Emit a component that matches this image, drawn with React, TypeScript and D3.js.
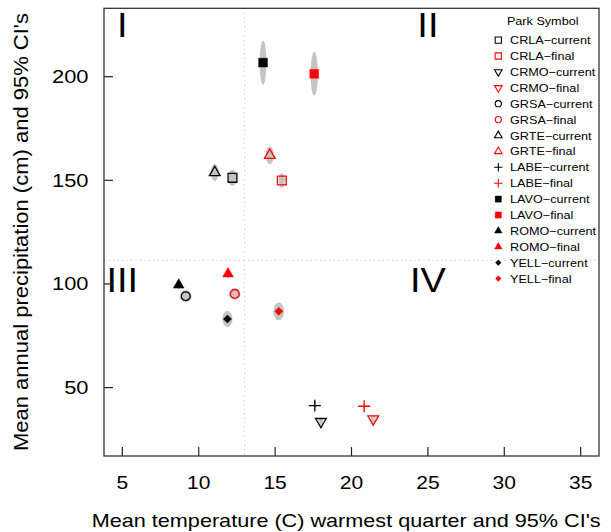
import React from 'react';
import * as d3 from 'd3';

// legend order: park x scenario
const seriesLabels = [
  "CRLA-current", "CRLA-final", "CRMO-current", "CRMO-final",
  "GRSA-current", "GRSA-final", "GRTE-current", "GRTE-final",
  "LABE-current", "LABE-final", "LAVO-current", "LAVO-final",
  "ROMO-current", "ROMO-final", "YELL-current", "YELL-final"
];
const seriesShapes = [
  "square", "square", "triDown", "triDown",
  "circle", "circle", "triUp", "triUp",
  "plus", "plus", "squareFill", "squareFill",
  "triUpFill", "triUpFill", "diamond", "diamond"
];
const seriesColors = [
  "black", "red", "black", "red", "black", "red", "black", "red",
  "black", "red", "black", "red", "black", "red", "black", "red"
];
const tempMean = [12.21, 15.44, 18.0, 21.42, 9.15, 12.36, 11.05, 14.65, 17.6, 20.83, 14.21, 17.56, 8.69, 11.92, 11.88, 15.24];
const precipMean = [151.2, 149.9, 33.6, 34.9, 94.1, 95.2, 153.8, 162.1, 41.3, 41.0, 206.8, 201.4, 99.5, 104.9, 83.1, 86.8];
const tempCI = [0.28, 0.2, 0.15, 0.15, 0.39, 0.38, 0.25, 0.26, 0.1, 0.1, 0.22, 0.24, 0.15, 0.15, 0.33, 0.35];
const precipCI = [3.9, 3.6, 2, 2, 2.9, 2.7, 4.2, 4.4, 1, 1, 10.7, 10.5, 2, 2, 3.9, 4.3];

const xTicks = [5, 10, 15, 20, 25, 30, 35];
const yTicks = [50, 100, 150, 200];
const quadrants = [
  { label: "I", x: 5, y: 225 },
  { label: "II", x: 25, y: 225 },
  { label: "III", x: 5, y: 102 },
  { label: "IV", x: 25, y: 102 }
];
const tempSplit = 13;
const precipSplit = 111.4;

const W = 611, H = 532;
const left = 104, right = 599, top = 8.3, bottom = 456;
const font = "'Liberation Sans', Arial, Helvetica, sans-serif";

function symbolPath(shape, k) {
  // k = overall size (px)
  if (shape === "square" || shape === "squareFill") {
    return `M${-k},${-k}H${k}V${k}H${-k}Z`;
  }
  if (shape === "triUp" || shape === "triUpFill") {
    const r = k * 1.41, hw = r * Math.sqrt(3) / 2;
    return `M0,${-r}L${hw},${r / 2}L${-hw},${r / 2}Z`;
  }
  if (shape === "triDown") {
    const r = k * 1.41, hw = r * Math.sqrt(3) / 2;
    return `M0,${r}L${hw},${-r / 2}L${-hw},${-r / 2}Z`;
  }
  if (shape === "circle") {
    const p = d3.path();
    p.arc(0, 0, k, 0, Math.PI * 2);
    return p.toString();
  }
  if (shape === "plus") {
    const a = k * 1.36;
    return `M${-a},0H${a}M0,${-a}V${a}`;
  }
  if (shape === "diamond") {
    const a = k * 0.92;
    return `M0,${-a}L${a},0L0,${a}L${-a},0Z`;
  }
  return "";
}

function isFilled(shape) {
  return shape === "squareFill" || shape === "triUpFill" || shape === "diamond";
}

export default function App() {
  const x = d3.scaleLinear().domain([3.8, 36.2]).range([left, right]);
  const y = d3.scaleLinear().domain([17, 233]).range([bottom, top]);

  const idx = d3.range(seriesLabels.length);

  return (
    <svg width={W} height={H} style={{ position: 'absolute', left: 0, top: 0, background: 'white' }}
         fontFamily={font}>
      {/* quadrant split lines */}
      <line x1={x(tempSplit)} x2={x(tempSplit)} y1={top} y2={bottom}
            stroke="#bdbdbd" strokeWidth={1} strokeDasharray="1,3.5" />
      <line x1={left} x2={right} y1={y(precipSplit)} y2={y(precipSplit)}
            stroke="#bdbdbd" strokeWidth={1} strokeDasharray="1,3.5" />

      {/* CI ellipses */}
      {idx.map(i => (
        <ellipse key={'e' + i}
                 cx={x(tempMean[i])} cy={y(precipMean[i])}
                 rx={x(tempMean[i] + tempCI[i]) - x(tempMean[i])}
                 ry={y(precipMean[i]) - y(precipMean[i] + precipCI[i])}
                 fill="#c4c4c4" />
      ))}

      {/* points */}
      {idx.map(i => {
        const sh = seriesShapes[i];
        const filled = isFilled(sh);
        return (
          <path key={'p' + i}
                transform={`translate(${x(tempMean[i])},${y(precipMean[i])})`}
                d={symbolPath(sh, 4.4)}
                fill={filled ? seriesColors[i] : 'none'}
                stroke={seriesColors[i]}
                strokeWidth={filled ? 0.5 : 1.3} />
        );
      })}

      {/* quadrant labels */}
      {quadrants.map(q => (
        <text key={q.label} transform={`translate(${x(q.x)},${y(q.y)}) scale(1.1,1)`}
              textAnchor="middle" dy="0.36em" fontSize={34.5}>{q.label}</text>
      ))}

      {/* axes: ticks point inward */}
      {xTicks.map(t => (
        <g key={'xt' + t}>
          <line x1={x(t)} x2={x(t)} y1={bottom} y2={bottom - 9} stroke="#222" strokeWidth={1.2} />
          <text transform={`translate(${x(t)},489) scale(1.2,1)`} textAnchor="middle" fontSize={17.5}>{t}</text>
        </g>
      ))}
      {yTicks.map(t => (
        <g key={'yt' + t}>
          <line x1={left} x2={left + 9} y1={y(t)} y2={y(t)} stroke="#222" strokeWidth={1.2} />
          <text transform={`translate(88.5,${y(t) + 6.5}) scale(1.25,1)`} textAnchor="end" fontSize={17.5}>{t}</text>
        </g>
      ))}
      <rect x={left} y={top} width={right - left} height={bottom - top}
            fill="none" stroke="#333" strokeWidth={1.3} />

      <text x={346.2} y={526.7} textAnchor="middle" fontSize={18.5}
            textLength={509} lengthAdjust="spacingAndGlyphs">
        Mean temperature (C) warmest quarter and 95% CI's
      </text>
      <text transform="translate(28.3,232) rotate(-90)" textAnchor="middle" fontSize={20}
            textLength={438} lengthAdjust="spacingAndGlyphs">
        Mean annual precipitation (cm) and 95% CI's
      </text>

      {/* legend */}
      <text transform="translate(542.7,24.5) scale(1.1,1)" textAnchor="middle" fontSize={11.5}>Park Symbol</text>
      {idx.map(i => {
        const sh = seriesShapes[i];
        const filled = isFilled(sh);
        const cy = 40.1 + i * 15.9;
        return (
          <g key={'l' + i}>
            <path transform={`translate(498.3,${cy})`} d={symbolPath(sh, 3.1)}
                  fill={filled ? seriesColors[i] : 'none'} stroke={seriesColors[i]}
                  strokeWidth={filled ? 0.4 : 1.1} />
            <text transform={`translate(510,${cy + 4}) scale(1.15,1)`} fontSize={11}>
              {seriesLabels[i].replace('-', '\u2212')}
            </text>
          </g>
        );
      })}
    </svg>
  );
}
